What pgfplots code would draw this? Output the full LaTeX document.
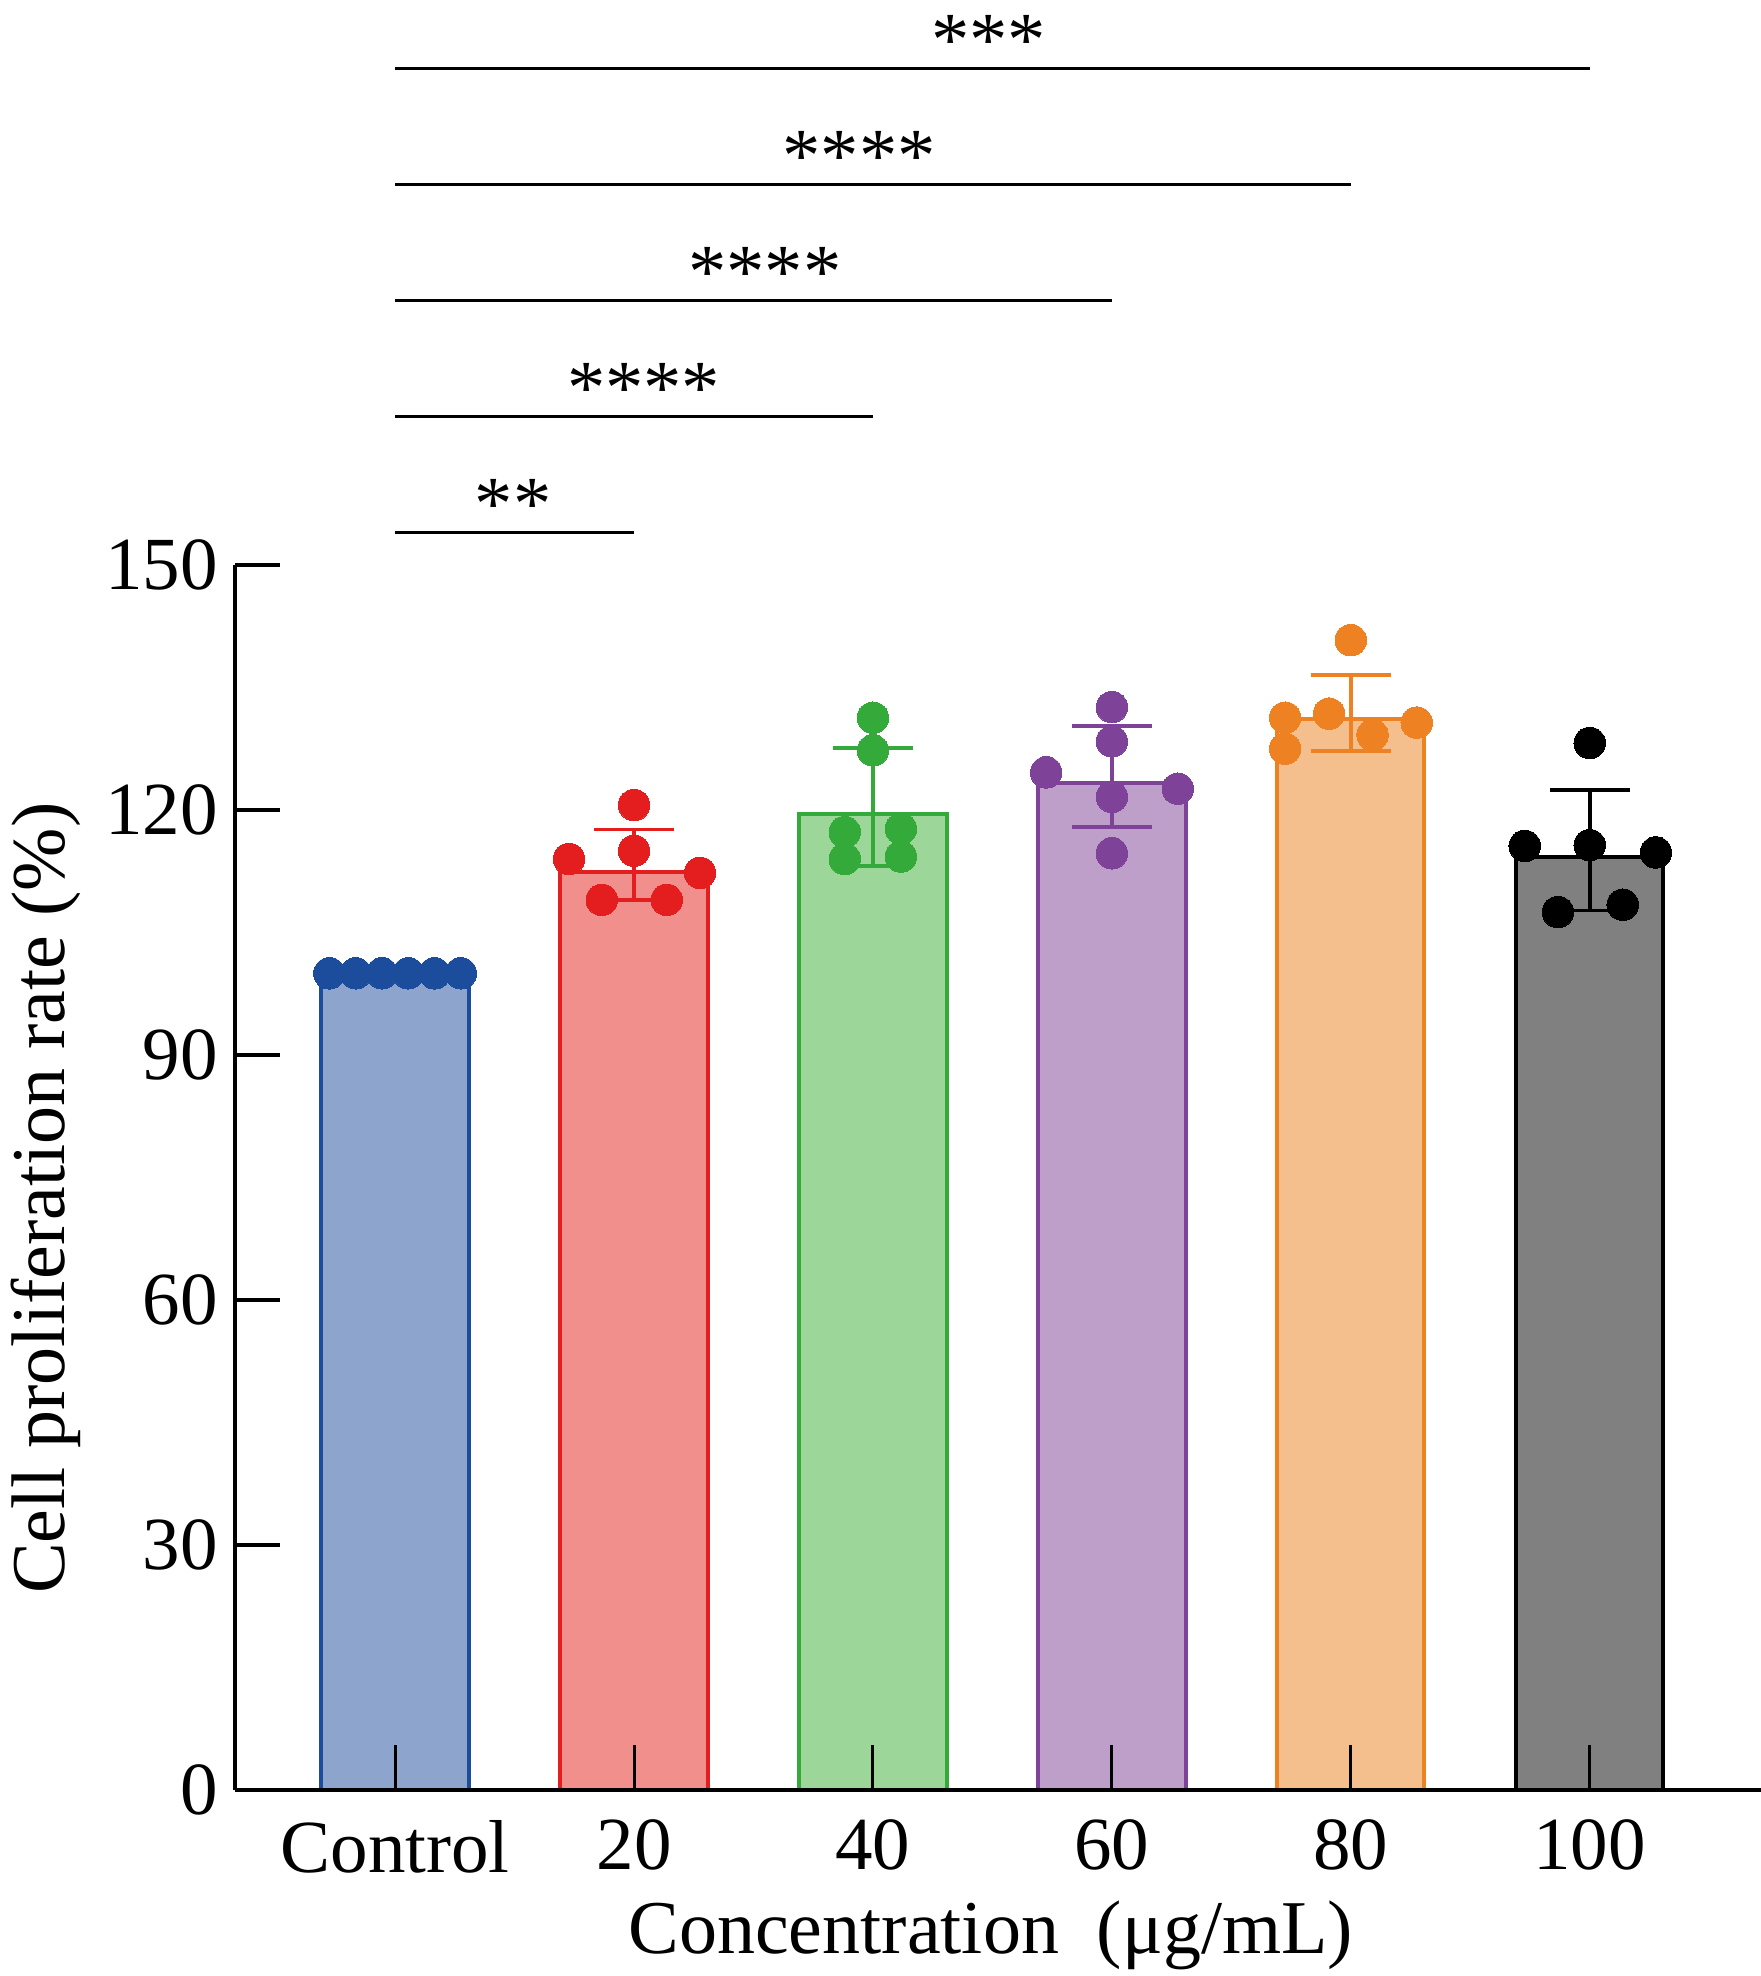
\documentclass[border=0pt]{standalone}
\usepackage{pgfplots}
\pgfplotsset{compat=1.18}
\usepackage{fontspec}
\setmainfont{Liberation Serif}

\definecolor{cblue}{RGB}{28,76,156}
\definecolor{fblue}{RGB}{141,164,204}
\definecolor{cred}{RGB}{228,30,30}
\definecolor{fred}{RGB}{241,143,140}
\definecolor{cgreen}{RGB}{52,170,58}
\definecolor{fgreen}{RGB}{156,214,153}
\definecolor{cpurple}{RGB}{126,66,152}
\definecolor{fpurple}{RGB}{190,159,201}
\definecolor{corange}{RGB}{238,130,34}
\definecolor{forange}{RGB}{245,191,141}
\definecolor{fgray}{RGB}{128,128,128}

\newcommand{\lblfont}{\fontsize{15.2}{18}\selectfont}
\newcommand{\tickfont}{\fontsize{15}{18}\selectfont}
\newcommand{\starfont}{\fontsize{15.3}{18}\selectfont}

\pgfplotsset{
  mybar/.style n args={2}{ybar, bar shift=0pt, bar width=29.46pt, fill=#1, draw=#2, line width=0.8pt, forget plot},
  myerr/.style={draw=none, mark=none, forget plot,
    error bars/.cd, y dir=both, y explicit,
    error bar style={#1, line width=0.75pt},
    error mark options={rotate=90, #1, line width=0.75pt, mark size=8pt}},
  mydots/.style={only marks, mark=*, mark size=3.15pt, mark options={fill=#1, draw=#1, line width=0pt}, forget plot},
  sig/.style={black, line width=0.7pt, mark=none, forget plot},
}

\begin{document}
\begin{tikzpicture}
\path[use as bounding box] (-46.96pt,-37.2pt) rectangle (305.24pt,358pt);
\begin{axis}[
  at={(0,0)}, anchor=south west,
  scale only axis, width=305.24pt, height=245pt,
  xmin=-0.671, xmax=5.717, ymin=0, ymax=150,
  axis x line=bottom, axis y line=left,
  axis line style={-, line width=0.9pt, black},
  clip=false,
  axis on top,
  xtick={0,1,2,3,4,5},
  xticklabels={Control,20,40,60,80,100},
  ytick={0,30,60,90,120,150},
  tick align=inside,
  major tick length=9pt,
  xtick style={line width=0.6pt, black},
  ytick style={line width=0.9pt, black},
  ticklabel style={font=\tickfont},
  /pgf/number format/assume math mode=true,
  yticklabel style={inner sep=0pt, xshift=-3.2pt},
  xticklabel style={inner sep=0pt, yshift=-5.8pt},
  xlabel={Concentration\ \ (μg/mL)},
  ylabel={Cell proliferation rate (\%)},
  x label style={at={(axis description cs:0.4953,0)}, anchor=base, yshift=-32.6pt, font=\lblfont},
  y label style={at={(axis description cs:-0.1113,0.483)}, anchor=base, font=\lblfont},
]
% bars
\addplot[mybar={fblue}{cblue}] coordinates {(0,99.2)};
\addplot[mybar={fred}{cred}] coordinates {(1,112.4)};
\addplot[mybar={fgreen}{cgreen}] coordinates {(2,119.5)};
\addplot[mybar={fpurple}{cpurple}] coordinates {(3,123.3)};
\addplot[mybar={forange}{corange}] coordinates {(4,131.1)};
\addplot[mybar={fgray}{black}] coordinates {(5,114.2)};

% error bars (mean +- SD)
\addplot[myerr=cred] coordinates {(1,113.3) +- (0,4.3)};
\addplot[myerr=cgreen] coordinates {(2,120.35) +- (0,7.25)};
\addplot[myerr=cpurple] coordinates {(3,124.1) +- (0,6.2)};
\addplot[myerr=corange] coordinates {(4,131.85) +- (0,4.65)};
\addplot[myerr=black] coordinates {(5,115.05) +- (0,7.35)};

% individual points
\addplot[mydots=cblue] coordinates {(-0.275,100) (-0.165,100) (-0.055,100) (0.055,100) (0.165,100) (0.275,100)};
\addplot[mydots=cred] coordinates {(1,120.6) (1,115.0) (0.728,114.0) (1.276,112.3) (0.865,109.0) (1.137,109.0)};
\addplot[mydots=cgreen] coordinates {(2,131.3) (2,127.3) (1.882,117.3) (2.117,117.7) (1.882,114.0) (2.117,114.3)};
\addplot[mydots=cpurple] coordinates {(3,132.6) (3,128.4) (2.725,124.6) (3.276,122.6) (3,121.6) (3,114.7)};
\addplot[mydots=corange] coordinates {(4,140.8) (3.909,131.8) (3.725,131.3) (4.276,130.7) (4.091,129.2) (3.725,127.5)};
\addplot[mydots=black] coordinates {(5,128.2) (4.728,115.6) (5,115.7) (5.277,114.8) (4.867,107.5) (5.138,108.4)};

% significance brackets
\addplot[sig] coordinates {(0,154.0) (1,154.0)};
\addplot[sig] coordinates {(0,168.2) (2,168.2)};
\addplot[sig] coordinates {(0,182.4) (3,182.4)};
\addplot[sig] coordinates {(0,196.6) (4,196.6)};
\addplot[sig] coordinates {(0,210.8) (5,210.8)};
\node[anchor=base, inner sep=0pt, font=\starfont] at (axis cs:0.494,154.4) {**};
\node[anchor=base, inner sep=0pt, font=\starfont] at (axis cs:1.040,168.6) {****};
\node[anchor=base, inner sep=0pt, font=\starfont] at (axis cs:1.548,182.8) {****};
\node[anchor=base, inner sep=0pt, font=\starfont] at (axis cs:1.942,197.0) {****};
\node[anchor=base, inner sep=0pt, font=\starfont] at (axis cs:2.484,211.2) {***};
\end{axis}
\end{tikzpicture}
\end{document}
